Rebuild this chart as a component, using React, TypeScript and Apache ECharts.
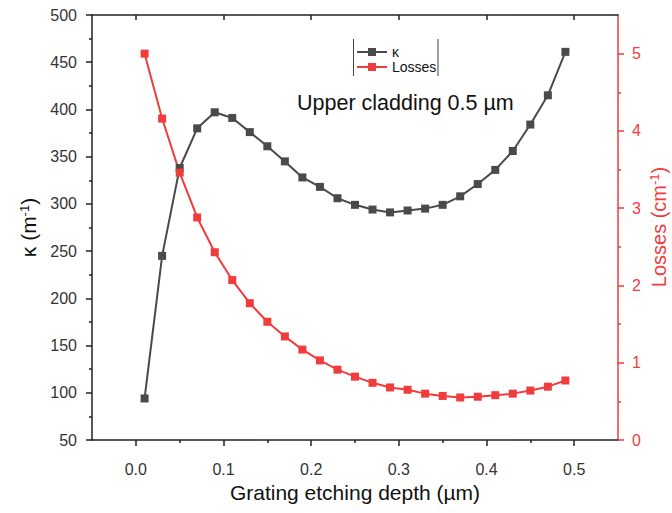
import React, { useEffect, useRef } from "react";
import * as echarts from "echarts";

const depth = [0.01, 0.03, 0.05, 0.07, 0.09, 0.11, 0.13, 0.15, 0.17, 0.19, 0.21, 0.23, 0.25, 0.27, 0.29, 0.31, 0.33, 0.35, 0.37, 0.39, 0.41, 0.43, 0.45, 0.47, 0.49];
const kappa = [94, 245, 338, 380, 397, 391, 376, 361, 345, 328, 318, 306, 299, 294, 291, 293, 295, 299, 308, 321, 336, 356, 384, 415, 461];
const losses = [5.0, 4.16, 3.46, 2.88, 2.43, 2.07, 1.77, 1.53, 1.34, 1.17, 1.03, 0.91, 0.82, 0.74, 0.68, 0.65, 0.6, 0.57, 0.55, 0.56, 0.58, 0.6, 0.64, 0.69, 0.77];
const xMajorTicks = [0, 0.1, 0.2, 0.3, 0.4, 0.5];
const xMinorTicks = [0.05, 0.15, 0.25, 0.35, 0.45];
const rightMajorTicks = [0, 1, 2, 3, 4, 5];
const rightMinorTicks = [0.5, 1.5, 2.5, 3.5, 4.5];

const FONT = 'Arial, "Liberation Sans", sans-serif';
const BLACK = "#4a4a4a";
const RED = "#f03c3c";
const AXIS = "#222222";

export default function App() {
  const ref = useRef<HTMLDivElement>(null);
  useEffect(() => {
    if (!ref.current) return;
    const chart = echarts.init(ref.current, null, { renderer: "svg" });
    const supRich = {
      sup: { fontSize: 13, fontFamily: FONT, padding: [0, 0, 9, 0] },
    };
    chart.setOption({
      animation: false,
      backgroundColor: "#ffffff",
      textStyle: { fontFamily: FONT },
      grid: { left: 92, right: 54, top: 15, bottom: 73, containLabel: false, outerBoundsMode: "none" },
      legend: {
        orient: "vertical",
        left: 356,
        top: 45,
        padding: 0,
        itemGap: 1,
        itemWidth: 30,
        itemHeight: 10,
        textStyle: { fontSize: 14, fontFamily: FONT, color: "#111" },
        data: ["κ", "Losses"],
      },
      graphic: [
        { type: "line", shape: { x1: 353.5, y1: 39, x2: 353.5, y2: 76 }, style: { stroke: "#444", lineWidth: 1 } },
        { type: "line", shape: { x1: 438, y1: 39, x2: 438, y2: 76 }, style: { stroke: "#444", lineWidth: 1 } },
        {
          type: "text",
          x: 297,
          y: 103,
          style: {
            text: "Upper cladding 0.5 µm",
            font: `21.5px ${FONT}`,
            fill: "#111",
            verticalAlign: "middle",
          },
        },
        {
          type: "text",
          x: 659,
          y: 227,
          rotation: Math.PI / 2,
          style: {
            text: "Losses (cm{sup|-1})",
            fontSize: 20,
            fontFamily: FONT,
            fill: RED,
            align: "center",
            verticalAlign: "middle",
            rich: { sup: { fontSize: 13, fontFamily: FONT, fill: RED, padding: [0, 0, 9, 0] } },
          },
        },
      ],
      xAxis: [
        {
          type: "value",
          position: "bottom",
          min: -0.05,
          max: 0.55,
          axisLine: { show: true, onZero: false, lineStyle: { color: AXIS, width: 1.5 } },
          axisTick: { show: true, inside: false, length: 6, customValues: xMajorTicks, lineStyle: { color: AXIS, width: 1.5 } },
          axisLabel: {
            show: true,
            customValues: xMajorTicks,
            formatter: (v: number) => v.toFixed(1),
            fontSize: 16,
            color: "#333",
            margin: 21,
            fontFamily: FONT,
          },
          splitLine: { show: false },
          name: "Grating etching depth (µm)",
          nameLocation: "middle",
          nameGap: 42,
          nameTextStyle: { fontSize: 21, color: "#111", fontFamily: FONT },
        },
        {
          type: "value",
          position: "bottom",
          min: -0.05,
          max: 0.55,
          axisLine: { show: false, onZero: false },
          axisTick: { show: true, inside: false, length: 3, customValues: xMinorTicks, lineStyle: { color: AXIS, width: 1.5 } },
          axisLabel: { show: false },
          splitLine: { show: false },
        },
        {
          type: "value",
          position: "top",
          min: -0.05,
          max: 0.55,
          axisLine: { show: true, onZero: false, lineStyle: { color: AXIS, width: 1.5 } },
          axisTick: { show: true, inside: true, length: 5, customValues: xMajorTicks, lineStyle: { color: AXIS, width: 1.5 } },
          axisLabel: { show: false },
          splitLine: { show: false },
        },
      ],
      yAxis: [
        {
          type: "value",
          position: "left",
          min: 50,
          max: 500,
          interval: 50,
          axisLine: { show: true, onZero: false, lineStyle: { color: AXIS, width: 1.5 } },
          axisTick: { show: true, inside: false, length: 6, lineStyle: { color: AXIS, width: 1.5 } },
          minorTick: { show: true, splitNumber: 2, length: 3, lineStyle: { color: AXIS, width: 1.5 } },
          axisLabel: { fontSize: 16, color: "#333", margin: 15, fontFamily: FONT },
          splitLine: { show: false },
          minorSplitLine: { show: false },
          name: "κ (m{sup|-1})",
          nameLocation: "middle",
          nameGap: 47,
          nameTextStyle: { fontSize: 21, color: "#111", fontFamily: FONT, rich: supRich },
        },
        {
          type: "value",
          position: "right",
          min: 0,
          max: 5.5,
          axisLine: { show: true, onZero: false, lineStyle: { color: RED, width: 1.5 } },
          axisTick: { show: true, inside: false, length: 6, customValues: rightMajorTicks, lineStyle: { color: RED, width: 1.5 } },
          axisLabel: { customValues: rightMajorTicks, fontSize: 16, color: RED, margin: 14, fontFamily: FONT },
          splitLine: { show: false },
        },
        {
          type: "value",
          position: "right",
          min: 0,
          max: 5.5,
          axisLine: { show: false, onZero: false },
          axisTick: { show: true, inside: false, length: 3, customValues: rightMinorTicks, lineStyle: { color: RED, width: 1.5 } },
          axisLabel: { show: false },
          splitLine: { show: false },
        },
      ],
      series: [
        {
          name: "κ",
          type: "line",
          xAxisIndex: 0,
          yAxisIndex: 0,
          data: depth.map((d, i) => [d, kappa[i]]),
          symbol: "rect",
          symbolSize: 8,
          itemStyle: { color: BLACK },
          lineStyle: { color: BLACK, width: 2 },
        },
        {
          name: "Losses",
          type: "line",
          xAxisIndex: 0,
          yAxisIndex: 1,
          data: depth.map((d, i) => [d, losses[i]]),
          symbol: "rect",
          symbolSize: 8,
          itemStyle: { color: RED },
          lineStyle: { color: RED, width: 2 },
        },
      ],
    });
    return () => chart.dispose();
  }, []);
  return <div ref={ref} style={{ position: "fixed", left: 0, top: 0, width: 672, height: 513 }} />;
}
